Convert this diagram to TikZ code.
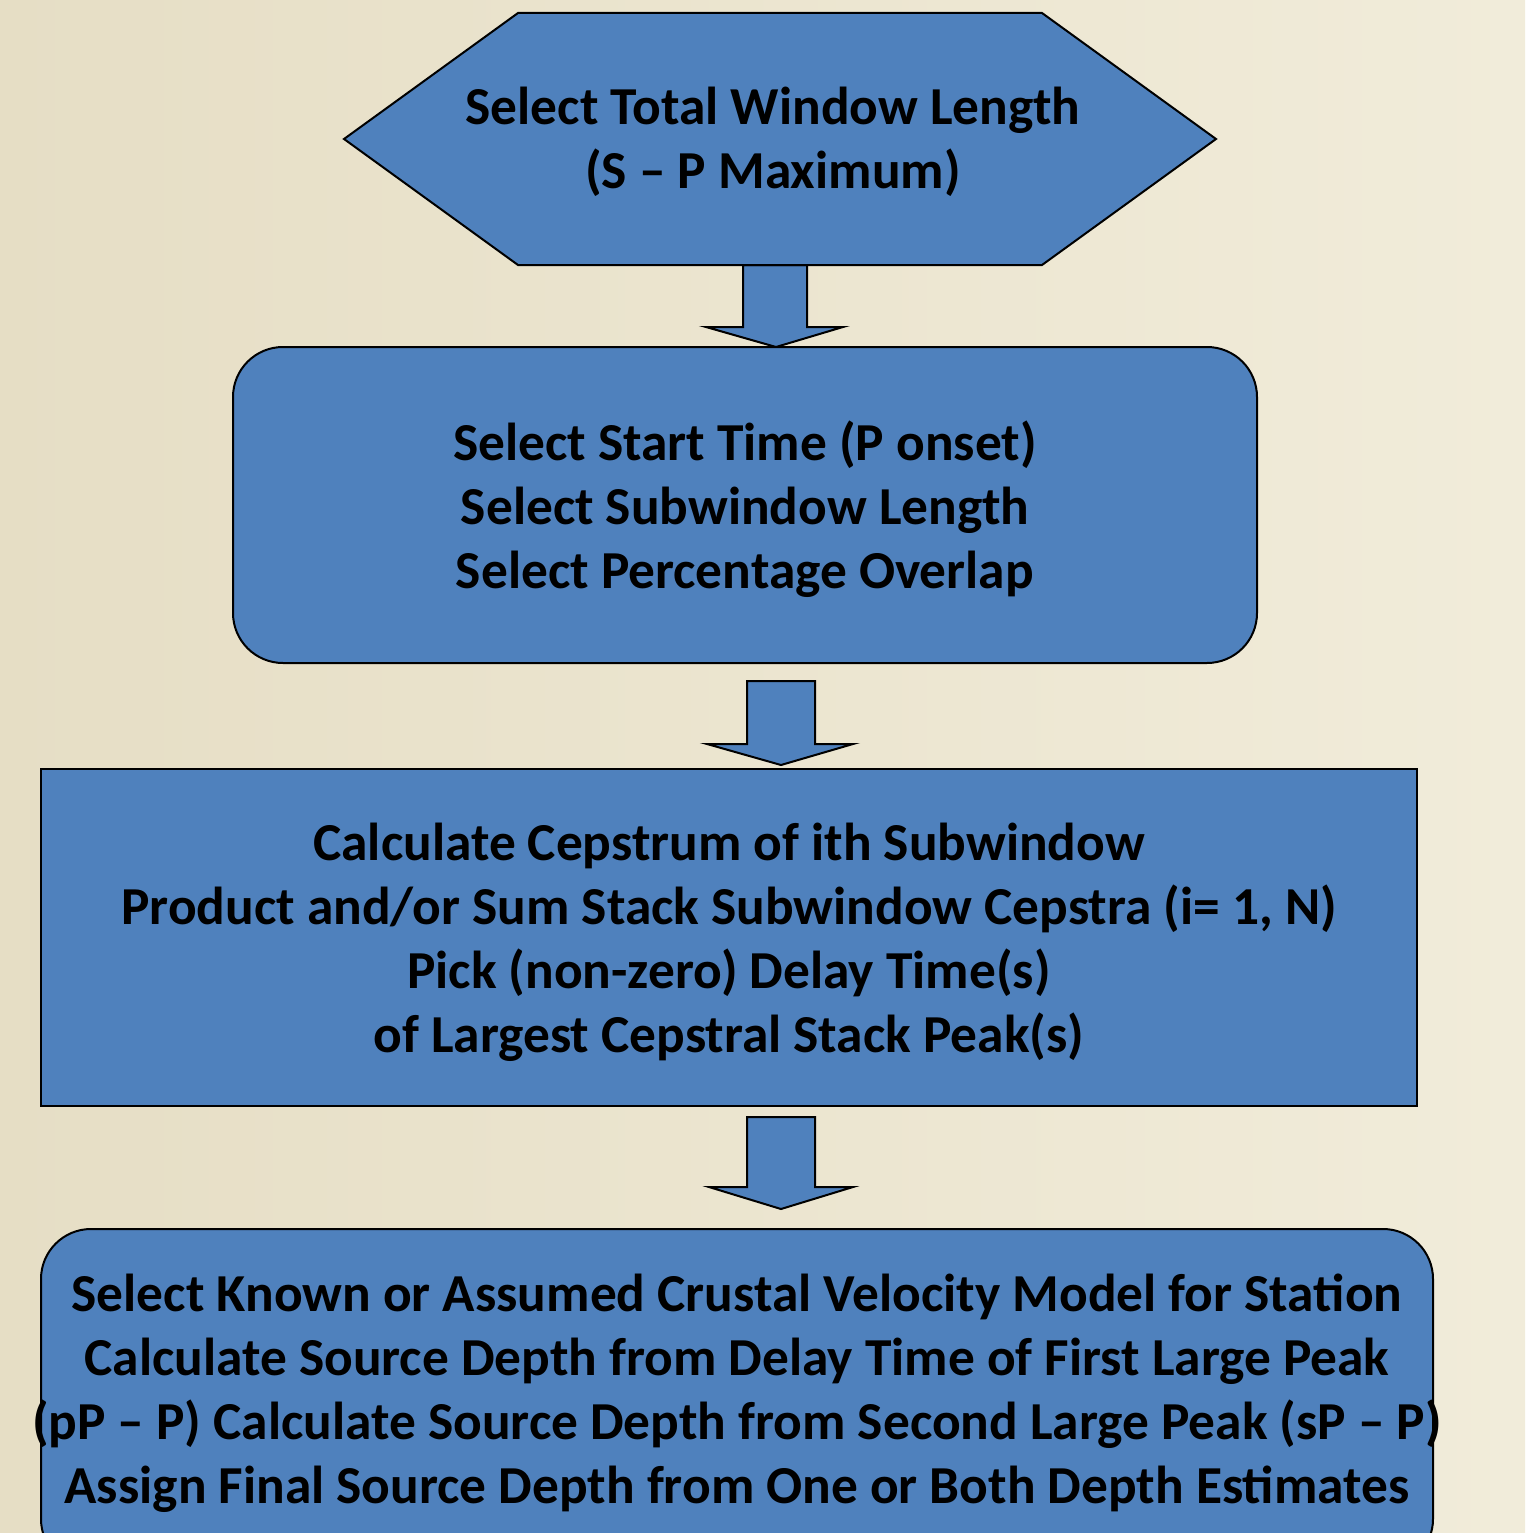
\documentclass[tikz,border=0pt]{standalone}
\usepackage{fontspec}
\setmainfont{Carlito}
\usetikzlibrary{calc}
\definecolor{bgleft}{HTML}{E6DEC5}
\definecolor{bgright}{HTML}{F1ECDA}
\definecolor{boxblue}{HTML}{4F81BD}
\tikzset{
  shapeline/.style={draw=black, line width=2pt, fill=boxblue, line join=miter},
  boxtext/.style={font=\fontsize{53.4}{64}\selectfont\bfseries, align=center, text=black, inner sep=0pt},
  blockarrow/.style={draw=black, line width=2pt, fill=boxblue, line join=miter}
}
\begin{document}
\begin{tikzpicture}[x=1pt,y=-1pt]
\useasboundingbox (0,0) rectangle (1525,1533);
\clip (0,0) rectangle (1525,1533);
\shade[left color=bgleft, right color=bgright] (0,0) rectangle (1525,1533);

% arrows (drawn first, under boxes)
\coordinate (a1) at (775,265);
\coordinate (a2) at (781,681);
\coordinate (a3) at (781,1117);
\draw[blockarrow] ($(a1)+(-32,0)$) -- ($(a1)+(32,0)$) -- ($(a1)+(32,62)$) -- ($(a1)+(68,62)$) -- ($(a1)+(1,82)$) -- ($(a1)+(-69,62)$) -- ($(a1)+(-32,62)$) -- cycle;
\draw[blockarrow] ($(a2)+(-34,0)$) -- ($(a2)+(34,0)$) -- ($(a2)+(34,63)$) -- ($(a2)+(72,63)$) -- ($(a2)+(0,84)$) -- ($(a2)+(-74,63)$) -- ($(a2)+(-34,63)$) -- cycle;
\draw[blockarrow] ($(a3)+(-34,0)$) -- ($(a3)+(34,0)$) -- ($(a3)+(34,70)$) -- ($(a3)+(72,70)$) -- ($(a3)+(0,92)$) -- ($(a3)+(-72,70)$) -- ($(a3)+(-34,70)$) -- cycle;

% hexagon
\coordinate (hexc) at (780,139);
\draw[shapeline] (344,139) -- (518,13) -- (1042,13) -- (1216,139) -- (1042,265) -- (518,265) -- cycle;
\node[boxtext] (hex) at (773,142) {Select Total Window Length\\(S -- P Maximum)};

% box 2
\node[shapeline, rounded corners=50pt, minimum width=1024pt, minimum height=316pt, inner sep=0pt] (b2) at (745,505) {};
\node[boxtext] (t2) at (745,509) {Select Start Time (P onset)\\Select Subwindow Length\\Select Percentage Overlap};

% box 3
\node[shapeline, minimum width=1376pt, minimum height=337pt, inner sep=0pt] (b3) at (729,937.5) {};
\node[boxtext] (t3) at (729,942) {Calculate Cepstrum of ith Subwindow\\Product and/or Sum Stack Subwindow Cepstra (i= 1, N)\\Pick (non-zero) Delay Time(s)\\of Largest Cepstral Stack Peak(s)};

% box 4
\node[shapeline, rounded corners=50pt, minimum width=1392pt, minimum height=340pt, inner sep=0pt] (b4) at (737,1399) {};
\node[boxtext] (t4) at (737,1393) {Select Known or Assumed Crustal Velocity Model for Station\\Calculate Source Depth from Delay Time of First Large Peak\\(pP -- P) Calculate Source Depth from Second Large Peak (sP -- P)\\Assign Final Source Depth from One or Both Depth Estimates};
\end{tikzpicture}
\end{document}
